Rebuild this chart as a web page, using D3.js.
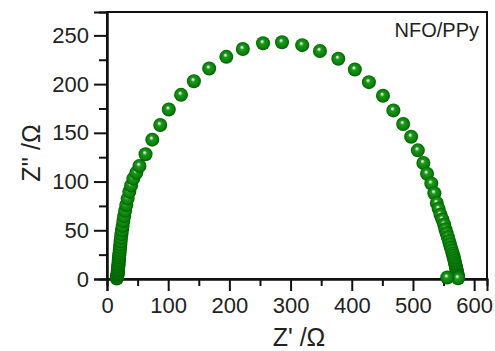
<!DOCTYPE html>
<html><head><meta charset="utf-8">
<script src="https://cdn.jsdelivr.net/npm/d3@7"></script>
<style>
html,body{margin:0;padding:0;background:#fff;}
text{font-family:"Liberation Sans",Arial,sans-serif;fill:#222;}
</style></head>
<body><svg id="c" width="495" height="351"></svg>
<script>
// Nyquist data (Z' , Z'') in Ohm
const zReal = [16,16.3,16.6,16.9,17.1,17.3,17.5,17.7,17.9,18.1,18.3,18.5,18.7,19,19.2,19.5,19.8,20.1,20.5,20.9,21.3,21.8,22.3,22.9,23.6,24.5,25.5,26.7,28.1,29.7,31.5,33.8,36.5,39.5,43,48,53,63,74,87,101,121,142,167,195,222,255,286,319,348,378,405,428,451,468,484,497,508,517,523,530,535,539,542,545,548,551,553,555,557,559,560.5,562,563.5,565,566,567,568,568.8,569.5,570.2,570.8,571.3,571.8,572.2,572.6,573,573.3,573.6,573.8,556];
const zImag = [0.5,1.5,2.5,3.5,4.5,5.5,6.5,7.7,9,10.3,11.7,13.2,14.8,16.5,18.3,20.2,22.3,24.5,27,29.6,32.5,35.5,38.8,42.3,46,50,54.5,59.5,64.5,70,76,82.5,89.5,96,103,109,116,128,143,158,174,189,203,216,228,236,242,243,240,234,226,215,202,188,173,159,146,132,119,108,98,88,78,72,66,61,56,51,47,43,39,35.5,32,29,26,23.5,21,18.7,16.5,14.5,12.6,10.8,9.2,7.7,6.3,5,3.8,2.7,1.7,0.8,1.5];
const xTicks = [0,100,200,300,400,500,600];
const xMinor = [50,150,250,350,450,550];
const yTicks = [0,50,100,150,200,250];
const yMinor = [25,75,125,175,225];
const sampleLabel = "NFO/PPy";

const svg = d3.select("#c");
const L=107, R=487, T=12, B=279;
const x = d3.scaleLinear().domain([0,621]).range([L,R]);
const y = d3.scaleLinear().domain([0,274]).range([B,T]);

const defs = svg.append("defs");
const g = defs.append("radialGradient").attr("id","ball")
  .attr("cx","50%").attr("cy","50%").attr("r","50%").attr("fx","42%").attr("fy","36%");
g.append("stop").attr("offset","0%").attr("stop-color","#ffffff");
g.append("stop").attr("offset","14%").attr("stop-color","#a8dca8");
g.append("stop").attr("offset","32%").attr("stop-color","#1f961f");
g.append("stop").attr("offset","75%").attr("stop-color","#0a830a");
g.append("stop").attr("offset","100%").attr("stop-color","#006000");

// frame
svg.append("rect").attr("x",L).attr("y",T).attr("width",R-L).attr("height",B-T)
  .attr("fill","none").attr("stroke","#111").attr("stroke-width",2);

// axes
const xa = svg.append("g").attr("transform",`translate(0,${B})`)
  .call(d3.axisBottom(x).tickValues(xTicks).tickSize(12).tickPadding(6).tickFormat(d3.format("d")));
const xm = svg.append("g").attr("transform",`translate(0,${B})`)
  .call(d3.axisBottom(x).tickValues(xMinor).tickSize(7).tickFormat(""));
const ya = svg.append("g").attr("transform",`translate(${L},0)`)
  .call(d3.axisLeft(y).tickValues(yTicks).tickSize(13).tickPadding(5).tickFormat(d3.format("d")));
const ym = svg.append("g").attr("transform",`translate(${L},0)`)
  .call(d3.axisLeft(y).tickValues(yMinor).tickSize(8).tickFormat(""));
[xa,xm,ya,ym].forEach(a=>{
  a.select(".domain").attr("stroke","#111").attr("stroke-width",2);
  a.selectAll(".tick line").attr("stroke","#111").attr("stroke-width",2);
  a.selectAll("text").attr("font-size",22).attr("fill","#222")
    .style("font-family","'Liberation Sans',Arial,sans-serif");
});

// points
const pts = zReal.map((v,i)=>({x:v,y:zImag[i]}));
svg.append("g").selectAll("circle").data(pts).join("circle")
  .attr("cx",d=>x(d.x)).attr("cy",d=>y(d.y)).attr("r",7)
  .attr("fill","url(#ball)");

// labels
svg.append("text").attr("x",479).attr("y",37).attr("text-anchor","end")
  .attr("font-size",20).text(sampleLabel);
svg.append("text").attr("x",(L+R)/2+2).attr("y",346).attr("text-anchor","middle")
  .attr("font-size",25).text("Z' /Ω");
svg.append("text").attr("transform","translate(40,153) rotate(-90)").attr("text-anchor","middle")
  .attr("font-size",25).text("Z'' /Ω");
</script></body></html>
